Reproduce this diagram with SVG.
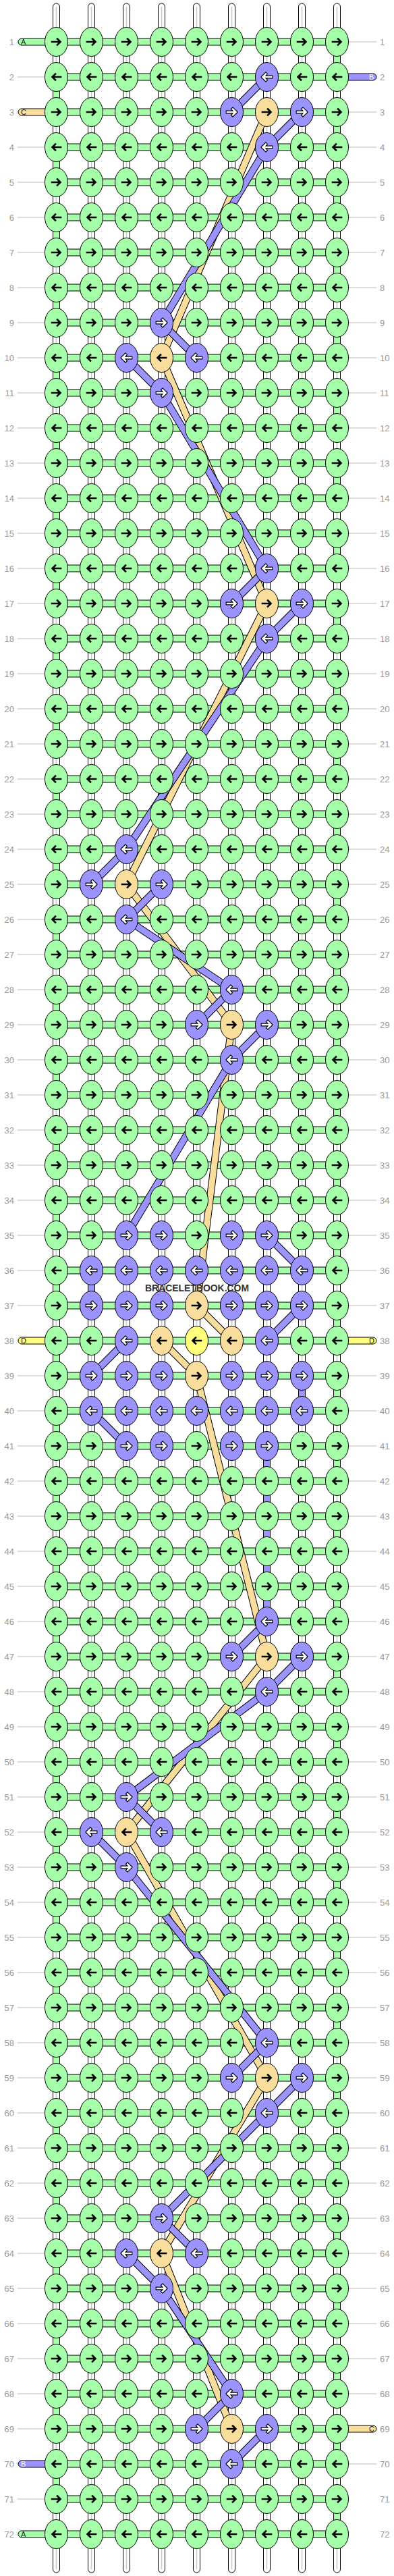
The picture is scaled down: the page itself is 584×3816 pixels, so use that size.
<svg xmlns="http://www.w3.org/2000/svg" xmlns:xlink="http://www.w3.org/1999/xlink" width="584" height="3816" viewBox="0 0 584 3816">
<style>
.g{fill:#a4ffa8;stroke:#000;stroke-width:1}
.p{fill:#9b93ff;stroke:#000;stroke-width:1}
.t{fill:#f8dd9c;stroke:#000;stroke-width:1}
.y{fill:#ffff7c;stroke:#000;stroke-width:1}
.ak{fill:none;stroke:#000;stroke-width:2.6;stroke-linecap:square}
.ao{fill:none;stroke:#000;stroke-width:4.8;stroke-linecap:square}
.aw{fill:none;stroke:#fff;stroke-width:2.6;stroke-linecap:square}
.vs{fill:#fff;stroke:#000;stroke-width:1}
.vc{fill:none;stroke:#c8c8c8;stroke-width:1.5}
.ob{fill:none;stroke:#000;stroke-width:11;stroke-linejoin:round}
.fg{fill:none;stroke:#a4ffa8;stroke-width:9;stroke-linejoin:round}
.fp{fill:none;stroke:#9b93ff;stroke-width:9;stroke-linejoin:round}
.ft{fill:none;stroke:#f8dd9c;stroke-width:9;stroke-linejoin:round}
.gl{fill:none;stroke:#bbb;stroke-width:1}
.num{font-family:"Liberation Sans",Arial,sans-serif;font-size:13px;fill:#999}
.sl{font-family:"Liberation Sans",Arial,sans-serif;font-size:11px;fill:#222}
.wm{font-family:"Liberation Sans",Arial,sans-serif;font-size:15px;font-weight:bold;fill:#333}
</style>
<defs>
<ellipse id="e" rx="17" ry="21.5"/>
<path id="ar" d="M-6.5,0H5.5M1.5,-4.5L6,0L1.5,4.5"/>
<path id="al" d="M6.5,0H-5.5M-1.5,-4.5L-6,0L-1.5,4.5"/>
<g id="GR"><use href="#e" class="g"/><use href="#ar" class="ak"/></g>
<g id="GL"><use href="#e" class="g"/><use href="#al" class="ak"/></g>
<g id="TR"><use href="#e" class="t"/><use href="#ar" class="ak"/></g>
<g id="TL"><use href="#e" class="t"/><use href="#al" class="ak"/></g>
<g id="YL"><use href="#e" class="y"/><use href="#al" class="ak"/></g>
<g id="PR"><use href="#e" class="p"/><use href="#ar" class="ao"/><use href="#ar" class="aw"/></g>
<g id="PL"><use href="#e" class="p"/><use href="#al" class="ao"/><use href="#al" class="aw"/></g>
<path id="hz" d="M83.5,62h416m-416,52h416m-416,52h416m-416,52h416m-416,52h416m-416,52h416m-416,52h416m-416,52h416m-416,52h416m-416,52h416m-416,52h416m-416,52h416m-416,52h416m-416,52h416m-416,52h416m-416,52h416m-416,52h416m-416,52h416m-416,52h416m-416,52h416m-416,52h416m-416,52h416m-416,52h416m-416,52h416m-416,52h416m-416,52h416m-416,52h416m-416,52h416m-416,52h416m-416,52h416m-416,52h416m-416,52h416m-416,52h416m-416,52h416m-416,52h416m-416,52h416m-416,52h416m-416,52h416m-416,52h416m-416,52h416m-416,52h416m-416,52h416m-416,52h416m-416,52h416m-416,52h416m-416,52h416m-416,52h416m-416,52h416m-416,52h416m-416,52h416m-416,52h416m-416,52h416m-416,52h416m-416,52h416m-416,52h416m-416,52h416m-416,52h416m-416,52h416m-416,52h416m-416,52h416m-416,52h416m-416,52h416m-416,52h416m-416,52h416m-416,52h416m-416,52h416m-416,52h416m-416,52h416m-416,52h416m-416,52h416m-416,52h416m-416,52h416"/>
<path id="tanp" d="M395.5,166L239.5,530L395.5,894L187.5,1310L343.5,1518L291.5,1934L343.5,1986M239.5,1986L291.5,2038L395.5,2454L187.5,2714L395.5,3078L239.5,3338L343.5,3598"/>
<path id="purp" d="M395.5,114L343.5,166M447.5,166L395.5,218L239.5,478L291.5,530M187.5,530L239.5,582L395.5,842L343.5,894M447.5,894L395.5,946L187.5,1258L135.5,1310M239.5,1310L187.5,1362L343.5,1466L291.5,1518M395.5,1518L343.5,1570L187.5,1830M395.5,1830L447.5,1882M447.5,1934L395.5,1986M187.5,1986L135.5,2038M135.5,2090L187.5,2142M395.5,2402L343.5,2454M447.5,2454L395.5,2506L187.5,2662L239.5,2714M135.5,2714L187.5,2766L395.5,3026L343.5,3078M447.5,3078L395.5,3130L239.5,3286L291.5,3338M187.5,3338L239.5,3390L343.5,3546L291.5,3598M395.5,3598L343.5,3650"/>
</defs>
<rect width="584" height="3816" fill="#fff"/>
<g id="connectors">
<g id="base-strands">
<rect class="vs" x="78.5" y="5" width="10" height="3806" rx="5"/>
<rect class="vs" x="130.5" y="5" width="10" height="3806" rx="5"/>
<rect class="vs" x="182.5" y="5" width="10" height="3806" rx="5"/>
<rect class="vs" x="234.5" y="5" width="10" height="3806" rx="5"/>
<rect class="vs" x="286.5" y="5" width="10" height="3806" rx="5"/>
<rect class="vs" x="338.5" y="5" width="10" height="3806" rx="5"/>
<rect class="vs" x="390.5" y="5" width="10" height="3806" rx="5"/>
<rect class="vs" x="442.5" y="5" width="10" height="3806" rx="5"/>
<rect class="vs" x="494.5" y="5" width="10" height="3806" rx="5"/>
<path class="vc" d="M83.5,10V3806M135.5,10V3806M187.5,10V3806M239.5,10V3806M291.5,10V3806M343.5,10V3806M395.5,10V3806M447.5,10V3806M499.5,10V3806"/>
</g>
<g id="turns">
<path class="ob" stroke-dasharray="16 88" d="M499.5,80V3736M83.5,132V3684"/>
<path class="fg" stroke-dasharray="16 88" d="M499.5,80V3736M83.5,132V3684"/>
</g>
<g id="purple-verticals">
<rect class="p" x="130.5" y="1900" width="10" height="16"/>
<rect class="p" x="442.5" y="2056" width="10" height="16"/>
<rect class="p" x="390.5" y="2160" width="10" height="224"/>
</g>
<g id="rows-h">
<use href="#hz" class="ob"/>
<use href="#hz" class="fg"/>
</g>
<g id="side-lines">
<path class="gl" d="M26,62h41m-41,52h41m-41,52h41m-41,52h41m-41,52h41m-41,52h41m-41,52h41m-41,52h41m-41,52h41m-41,52h41m-41,52h41m-41,52h41m-41,52h41m-41,52h41m-41,52h41m-41,52h41m-41,52h41m-41,52h41m-41,52h41m-41,52h41m-41,52h41m-41,52h41m-41,52h41m-41,52h41m-41,52h41m-41,52h41m-41,52h41m-41,52h41m-41,52h41m-41,52h41m-41,52h41m-41,52h41m-41,52h41m-41,52h41m-41,52h41m-41,52h41m-41,52h41m-41,52h41m-41,52h41m-41,52h41m-41,52h41m-41,52h41m-41,52h41m-41,52h41m-41,52h41m-41,52h41m-41,52h41m-41,52h41m-41,52h41m-41,52h41m-41,52h41m-41,52h41m-41,52h41m-41,52h41m-41,52h41m-41,52h41m-41,52h41m-41,52h41m-41,52h41m-41,52h41m-41,52h41m-41,52h41m-41,52h41m-41,52h41m-41,52h41m-41,52h41m-41,52h41m-41,52h41m-41,52h41m-41,52h41m-41,52h41"/>
<path class="gl" d="M517,62h41m-41,52h41m-41,52h41m-41,52h41m-41,52h41m-41,52h41m-41,52h41m-41,52h41m-41,52h41m-41,52h41m-41,52h41m-41,52h41m-41,52h41m-41,52h41m-41,52h41m-41,52h41m-41,52h41m-41,52h41m-41,52h41m-41,52h41m-41,52h41m-41,52h41m-41,52h41m-41,52h41m-41,52h41m-41,52h41m-41,52h41m-41,52h41m-41,52h41m-41,52h41m-41,52h41m-41,52h41m-41,52h41m-41,52h41m-41,52h41m-41,52h41m-41,52h41m-41,52h41m-41,52h41m-41,52h41m-41,52h41m-41,52h41m-41,52h41m-41,52h41m-41,52h41m-41,52h41m-41,52h41m-41,52h41m-41,52h41m-41,52h41m-41,52h41m-41,52h41m-41,52h41m-41,52h41m-41,52h41m-41,52h41m-41,52h41m-41,52h41m-41,52h41m-41,52h41m-41,52h41m-41,52h41m-41,52h41m-41,52h41m-41,52h41m-41,52h41m-41,52h41m-41,52h41m-41,52h41m-41,52h41"/>
</g>
<g id="stubs">
<rect class="g" x="27" y="57" width="60" height="10" rx="5"/>
<rect class="t" x="27" y="161" width="60" height="10" rx="5"/>
<rect class="y" x="27" y="1981" width="60" height="10" rx="5"/>
<rect class="p" x="27" y="3645" width="60" height="10" rx="5"/>
<rect class="g" x="27" y="3749" width="60" height="10" rx="5"/>
<rect class="p" x="497" y="109" width="61" height="10" rx="5"/>
<rect class="y" x="497" y="1981" width="61" height="10" rx="5"/>
<rect class="t" x="497" y="3593" width="61" height="10" rx="5"/>
</g>
<g id="diagonals">
<use href="#tanp" class="ob"/>
<use href="#tanp" class="ft"/>
<use href="#purp" class="ob"/>
<use href="#purp" class="fp"/>
</g>
</g>
<g id="knots">
<g id="row1" transform="translate(0,62)"><g id="k1_1"><use href="#GR" x="83.5"/></g><g id="k1_2"><use href="#GR" x="135.5"/></g><g id="k1_3"><use href="#GR" x="187.5"/></g><g id="k1_4"><use href="#GR" x="239.5"/></g><g id="k1_5"><use href="#GR" x="291.5"/></g><g id="k1_6"><use href="#GR" x="343.5"/></g><g id="k1_7"><use href="#GR" x="395.5"/></g><g id="k1_8"><use href="#GR" x="447.5"/></g><g id="k1_9"><use href="#GR" x="499.5"/></g></g>
<g id="row2" transform="translate(0,114)"><g id="k2_1"><use href="#GL" x="83.5"/></g><g id="k2_2"><use href="#GL" x="135.5"/></g><g id="k2_3"><use href="#GL" x="187.5"/></g><g id="k2_4"><use href="#GL" x="239.5"/></g><g id="k2_5"><use href="#GL" x="291.5"/></g><g id="k2_6"><use href="#GL" x="343.5"/></g><g id="k2_7"><use href="#PL" x="395.5"/></g><g id="k2_8"><use href="#GL" x="447.5"/></g><g id="k2_9"><use href="#GL" x="499.5"/></g></g>
<g id="row3" transform="translate(0,166)"><g id="k3_1"><use href="#GR" x="83.5"/></g><g id="k3_2"><use href="#GR" x="135.5"/></g><g id="k3_3"><use href="#GR" x="187.5"/></g><g id="k3_4"><use href="#GR" x="239.5"/></g><g id="k3_5"><use href="#GR" x="291.5"/></g><g id="k3_6"><use href="#PR" x="343.5"/></g><g id="k3_7"><use href="#TR" x="395.5"/></g><g id="k3_8"><use href="#PR" x="447.5"/></g><g id="k3_9"><use href="#GR" x="499.5"/></g></g>
<g id="row4" transform="translate(0,218)"><g id="k4_1"><use href="#GL" x="83.5"/></g><g id="k4_2"><use href="#GL" x="135.5"/></g><g id="k4_3"><use href="#GL" x="187.5"/></g><g id="k4_4"><use href="#GL" x="239.5"/></g><g id="k4_5"><use href="#GL" x="291.5"/></g><g id="k4_6"><use href="#GL" x="343.5"/></g><g id="k4_7"><use href="#PL" x="395.5"/></g><g id="k4_8"><use href="#GL" x="447.5"/></g><g id="k4_9"><use href="#GL" x="499.5"/></g></g>
<g id="row5" transform="translate(0,270)"><g id="k5_1"><use href="#GR" x="83.5"/></g><g id="k5_2"><use href="#GR" x="135.5"/></g><g id="k5_3"><use href="#GR" x="187.5"/></g><g id="k5_4"><use href="#GR" x="239.5"/></g><g id="k5_5"><use href="#GR" x="291.5"/></g><g id="k5_6"><use href="#GR" x="343.5"/></g><g id="k5_7"><use href="#GR" x="395.5"/></g><g id="k5_8"><use href="#GR" x="447.5"/></g><g id="k5_9"><use href="#GR" x="499.5"/></g></g>
<g id="row6" transform="translate(0,322)"><g id="k6_1"><use href="#GL" x="83.5"/></g><g id="k6_2"><use href="#GL" x="135.5"/></g><g id="k6_3"><use href="#GL" x="187.5"/></g><g id="k6_4"><use href="#GL" x="239.5"/></g><g id="k6_5"><use href="#GL" x="291.5"/></g><g id="k6_6"><use href="#GL" x="343.5"/></g><g id="k6_7"><use href="#GL" x="395.5"/></g><g id="k6_8"><use href="#GL" x="447.5"/></g><g id="k6_9"><use href="#GL" x="499.5"/></g></g>
<g id="row7" transform="translate(0,374)"><g id="k7_1"><use href="#GR" x="83.5"/></g><g id="k7_2"><use href="#GR" x="135.5"/></g><g id="k7_3"><use href="#GR" x="187.5"/></g><g id="k7_4"><use href="#GR" x="239.5"/></g><g id="k7_5"><use href="#GR" x="291.5"/></g><g id="k7_6"><use href="#GR" x="343.5"/></g><g id="k7_7"><use href="#GR" x="395.5"/></g><g id="k7_8"><use href="#GR" x="447.5"/></g><g id="k7_9"><use href="#GR" x="499.5"/></g></g>
<g id="row8" transform="translate(0,426)"><g id="k8_1"><use href="#GL" x="83.5"/></g><g id="k8_2"><use href="#GL" x="135.5"/></g><g id="k8_3"><use href="#GL" x="187.5"/></g><g id="k8_4"><use href="#GL" x="239.5"/></g><g id="k8_5"><use href="#GL" x="291.5"/></g><g id="k8_6"><use href="#GL" x="343.5"/></g><g id="k8_7"><use href="#GL" x="395.5"/></g><g id="k8_8"><use href="#GL" x="447.5"/></g><g id="k8_9"><use href="#GL" x="499.5"/></g></g>
<g id="row9" transform="translate(0,478)"><g id="k9_1"><use href="#GR" x="83.5"/></g><g id="k9_2"><use href="#GR" x="135.5"/></g><g id="k9_3"><use href="#GR" x="187.5"/></g><g id="k9_4"><use href="#PR" x="239.5"/></g><g id="k9_5"><use href="#GR" x="291.5"/></g><g id="k9_6"><use href="#GR" x="343.5"/></g><g id="k9_7"><use href="#GR" x="395.5"/></g><g id="k9_8"><use href="#GR" x="447.5"/></g><g id="k9_9"><use href="#GR" x="499.5"/></g></g>
<g id="row10" transform="translate(0,530)"><g id="k10_1"><use href="#GL" x="83.5"/></g><g id="k10_2"><use href="#GL" x="135.5"/></g><g id="k10_3"><use href="#PL" x="187.5"/></g><g id="k10_4"><use href="#TL" x="239.5"/></g><g id="k10_5"><use href="#PL" x="291.5"/></g><g id="k10_6"><use href="#GL" x="343.5"/></g><g id="k10_7"><use href="#GL" x="395.5"/></g><g id="k10_8"><use href="#GL" x="447.5"/></g><g id="k10_9"><use href="#GL" x="499.5"/></g></g>
<g id="row11" transform="translate(0,582)"><g id="k11_1"><use href="#GR" x="83.5"/></g><g id="k11_2"><use href="#GR" x="135.5"/></g><g id="k11_3"><use href="#GR" x="187.5"/></g><g id="k11_4"><use href="#PR" x="239.5"/></g><g id="k11_5"><use href="#GR" x="291.5"/></g><g id="k11_6"><use href="#GR" x="343.5"/></g><g id="k11_7"><use href="#GR" x="395.5"/></g><g id="k11_8"><use href="#GR" x="447.5"/></g><g id="k11_9"><use href="#GR" x="499.5"/></g></g>
<g id="row12" transform="translate(0,634)"><g id="k12_1"><use href="#GL" x="83.5"/></g><g id="k12_2"><use href="#GL" x="135.5"/></g><g id="k12_3"><use href="#GL" x="187.5"/></g><g id="k12_4"><use href="#GL" x="239.5"/></g><g id="k12_5"><use href="#GL" x="291.5"/></g><g id="k12_6"><use href="#GL" x="343.5"/></g><g id="k12_7"><use href="#GL" x="395.5"/></g><g id="k12_8"><use href="#GL" x="447.5"/></g><g id="k12_9"><use href="#GL" x="499.5"/></g></g>
<g id="row13" transform="translate(0,686)"><g id="k13_1"><use href="#GR" x="83.5"/></g><g id="k13_2"><use href="#GR" x="135.5"/></g><g id="k13_3"><use href="#GR" x="187.5"/></g><g id="k13_4"><use href="#GR" x="239.5"/></g><g id="k13_5"><use href="#GR" x="291.5"/></g><g id="k13_6"><use href="#GR" x="343.5"/></g><g id="k13_7"><use href="#GR" x="395.5"/></g><g id="k13_8"><use href="#GR" x="447.5"/></g><g id="k13_9"><use href="#GR" x="499.5"/></g></g>
<g id="row14" transform="translate(0,738)"><g id="k14_1"><use href="#GL" x="83.5"/></g><g id="k14_2"><use href="#GL" x="135.5"/></g><g id="k14_3"><use href="#GL" x="187.5"/></g><g id="k14_4"><use href="#GL" x="239.5"/></g><g id="k14_5"><use href="#GL" x="291.5"/></g><g id="k14_6"><use href="#GL" x="343.5"/></g><g id="k14_7"><use href="#GL" x="395.5"/></g><g id="k14_8"><use href="#GL" x="447.5"/></g><g id="k14_9"><use href="#GL" x="499.5"/></g></g>
<g id="row15" transform="translate(0,790)"><g id="k15_1"><use href="#GR" x="83.5"/></g><g id="k15_2"><use href="#GR" x="135.5"/></g><g id="k15_3"><use href="#GR" x="187.5"/></g><g id="k15_4"><use href="#GR" x="239.5"/></g><g id="k15_5"><use href="#GR" x="291.5"/></g><g id="k15_6"><use href="#GR" x="343.5"/></g><g id="k15_7"><use href="#GR" x="395.5"/></g><g id="k15_8"><use href="#GR" x="447.5"/></g><g id="k15_9"><use href="#GR" x="499.5"/></g></g>
<g id="row16" transform="translate(0,842)"><g id="k16_1"><use href="#GL" x="83.5"/></g><g id="k16_2"><use href="#GL" x="135.5"/></g><g id="k16_3"><use href="#GL" x="187.5"/></g><g id="k16_4"><use href="#GL" x="239.5"/></g><g id="k16_5"><use href="#GL" x="291.5"/></g><g id="k16_6"><use href="#GL" x="343.5"/></g><g id="k16_7"><use href="#PL" x="395.5"/></g><g id="k16_8"><use href="#GL" x="447.5"/></g><g id="k16_9"><use href="#GL" x="499.5"/></g></g>
<g id="row17" transform="translate(0,894)"><g id="k17_1"><use href="#GR" x="83.5"/></g><g id="k17_2"><use href="#GR" x="135.5"/></g><g id="k17_3"><use href="#GR" x="187.5"/></g><g id="k17_4"><use href="#GR" x="239.5"/></g><g id="k17_5"><use href="#GR" x="291.5"/></g><g id="k17_6"><use href="#PR" x="343.5"/></g><g id="k17_7"><use href="#TR" x="395.5"/></g><g id="k17_8"><use href="#PR" x="447.5"/></g><g id="k17_9"><use href="#GR" x="499.5"/></g></g>
<g id="row18" transform="translate(0,946)"><g id="k18_1"><use href="#GL" x="83.5"/></g><g id="k18_2"><use href="#GL" x="135.5"/></g><g id="k18_3"><use href="#GL" x="187.5"/></g><g id="k18_4"><use href="#GL" x="239.5"/></g><g id="k18_5"><use href="#GL" x="291.5"/></g><g id="k18_6"><use href="#GL" x="343.5"/></g><g id="k18_7"><use href="#PL" x="395.5"/></g><g id="k18_8"><use href="#GL" x="447.5"/></g><g id="k18_9"><use href="#GL" x="499.5"/></g></g>
<g id="row19" transform="translate(0,998)"><g id="k19_1"><use href="#GR" x="83.5"/></g><g id="k19_2"><use href="#GR" x="135.5"/></g><g id="k19_3"><use href="#GR" x="187.5"/></g><g id="k19_4"><use href="#GR" x="239.5"/></g><g id="k19_5"><use href="#GR" x="291.5"/></g><g id="k19_6"><use href="#GR" x="343.5"/></g><g id="k19_7"><use href="#GR" x="395.5"/></g><g id="k19_8"><use href="#GR" x="447.5"/></g><g id="k19_9"><use href="#GR" x="499.5"/></g></g>
<g id="row20" transform="translate(0,1050)"><g id="k20_1"><use href="#GL" x="83.5"/></g><g id="k20_2"><use href="#GL" x="135.5"/></g><g id="k20_3"><use href="#GL" x="187.5"/></g><g id="k20_4"><use href="#GL" x="239.5"/></g><g id="k20_5"><use href="#GL" x="291.5"/></g><g id="k20_6"><use href="#GL" x="343.5"/></g><g id="k20_7"><use href="#GL" x="395.5"/></g><g id="k20_8"><use href="#GL" x="447.5"/></g><g id="k20_9"><use href="#GL" x="499.5"/></g></g>
<g id="row21" transform="translate(0,1102)"><g id="k21_1"><use href="#GR" x="83.5"/></g><g id="k21_2"><use href="#GR" x="135.5"/></g><g id="k21_3"><use href="#GR" x="187.5"/></g><g id="k21_4"><use href="#GR" x="239.5"/></g><g id="k21_5"><use href="#GR" x="291.5"/></g><g id="k21_6"><use href="#GR" x="343.5"/></g><g id="k21_7"><use href="#GR" x="395.5"/></g><g id="k21_8"><use href="#GR" x="447.5"/></g><g id="k21_9"><use href="#GR" x="499.5"/></g></g>
<g id="row22" transform="translate(0,1154)"><g id="k22_1"><use href="#GL" x="83.5"/></g><g id="k22_2"><use href="#GL" x="135.5"/></g><g id="k22_3"><use href="#GL" x="187.5"/></g><g id="k22_4"><use href="#GL" x="239.5"/></g><g id="k22_5"><use href="#GL" x="291.5"/></g><g id="k22_6"><use href="#GL" x="343.5"/></g><g id="k22_7"><use href="#GL" x="395.5"/></g><g id="k22_8"><use href="#GL" x="447.5"/></g><g id="k22_9"><use href="#GL" x="499.5"/></g></g>
<g id="row23" transform="translate(0,1206)"><g id="k23_1"><use href="#GR" x="83.5"/></g><g id="k23_2"><use href="#GR" x="135.5"/></g><g id="k23_3"><use href="#GR" x="187.5"/></g><g id="k23_4"><use href="#GR" x="239.5"/></g><g id="k23_5"><use href="#GR" x="291.5"/></g><g id="k23_6"><use href="#GR" x="343.5"/></g><g id="k23_7"><use href="#GR" x="395.5"/></g><g id="k23_8"><use href="#GR" x="447.5"/></g><g id="k23_9"><use href="#GR" x="499.5"/></g></g>
<g id="row24" transform="translate(0,1258)"><g id="k24_1"><use href="#GL" x="83.5"/></g><g id="k24_2"><use href="#GL" x="135.5"/></g><g id="k24_3"><use href="#PL" x="187.5"/></g><g id="k24_4"><use href="#GL" x="239.5"/></g><g id="k24_5"><use href="#GL" x="291.5"/></g><g id="k24_6"><use href="#GL" x="343.5"/></g><g id="k24_7"><use href="#GL" x="395.5"/></g><g id="k24_8"><use href="#GL" x="447.5"/></g><g id="k24_9"><use href="#GL" x="499.5"/></g></g>
<g id="row25" transform="translate(0,1310)"><g id="k25_1"><use href="#GR" x="83.5"/></g><g id="k25_2"><use href="#PR" x="135.5"/></g><g id="k25_3"><use href="#TR" x="187.5"/></g><g id="k25_4"><use href="#PR" x="239.5"/></g><g id="k25_5"><use href="#GR" x="291.5"/></g><g id="k25_6"><use href="#GR" x="343.5"/></g><g id="k25_7"><use href="#GR" x="395.5"/></g><g id="k25_8"><use href="#GR" x="447.5"/></g><g id="k25_9"><use href="#GR" x="499.5"/></g></g>
<g id="row26" transform="translate(0,1362)"><g id="k26_1"><use href="#GL" x="83.5"/></g><g id="k26_2"><use href="#GL" x="135.5"/></g><g id="k26_3"><use href="#PL" x="187.5"/></g><g id="k26_4"><use href="#GL" x="239.5"/></g><g id="k26_5"><use href="#GL" x="291.5"/></g><g id="k26_6"><use href="#GL" x="343.5"/></g><g id="k26_7"><use href="#GL" x="395.5"/></g><g id="k26_8"><use href="#GL" x="447.5"/></g><g id="k26_9"><use href="#GL" x="499.5"/></g></g>
<g id="row27" transform="translate(0,1414)"><g id="k27_1"><use href="#GR" x="83.5"/></g><g id="k27_2"><use href="#GR" x="135.5"/></g><g id="k27_3"><use href="#GR" x="187.5"/></g><g id="k27_4"><use href="#GR" x="239.5"/></g><g id="k27_5"><use href="#GR" x="291.5"/></g><g id="k27_6"><use href="#GR" x="343.5"/></g><g id="k27_7"><use href="#GR" x="395.5"/></g><g id="k27_8"><use href="#GR" x="447.5"/></g><g id="k27_9"><use href="#GR" x="499.5"/></g></g>
<g id="row28" transform="translate(0,1466)"><g id="k28_1"><use href="#GL" x="83.5"/></g><g id="k28_2"><use href="#GL" x="135.5"/></g><g id="k28_3"><use href="#GL" x="187.5"/></g><g id="k28_4"><use href="#GL" x="239.5"/></g><g id="k28_5"><use href="#GL" x="291.5"/></g><g id="k28_6"><use href="#PL" x="343.5"/></g><g id="k28_7"><use href="#GL" x="395.5"/></g><g id="k28_8"><use href="#GL" x="447.5"/></g><g id="k28_9"><use href="#GL" x="499.5"/></g></g>
<g id="row29" transform="translate(0,1518)"><g id="k29_1"><use href="#GR" x="83.5"/></g><g id="k29_2"><use href="#GR" x="135.5"/></g><g id="k29_3"><use href="#GR" x="187.5"/></g><g id="k29_4"><use href="#GR" x="239.5"/></g><g id="k29_5"><use href="#PR" x="291.5"/></g><g id="k29_6"><use href="#TR" x="343.5"/></g><g id="k29_7"><use href="#PR" x="395.5"/></g><g id="k29_8"><use href="#GR" x="447.5"/></g><g id="k29_9"><use href="#GR" x="499.5"/></g></g>
<g id="row30" transform="translate(0,1570)"><g id="k30_1"><use href="#GL" x="83.5"/></g><g id="k30_2"><use href="#GL" x="135.5"/></g><g id="k30_3"><use href="#GL" x="187.5"/></g><g id="k30_4"><use href="#GL" x="239.5"/></g><g id="k30_5"><use href="#GL" x="291.5"/></g><g id="k30_6"><use href="#PL" x="343.5"/></g><g id="k30_7"><use href="#GL" x="395.5"/></g><g id="k30_8"><use href="#GL" x="447.5"/></g><g id="k30_9"><use href="#GL" x="499.5"/></g></g>
<g id="row31" transform="translate(0,1622)"><g id="k31_1"><use href="#GR" x="83.5"/></g><g id="k31_2"><use href="#GR" x="135.5"/></g><g id="k31_3"><use href="#GR" x="187.5"/></g><g id="k31_4"><use href="#GR" x="239.5"/></g><g id="k31_5"><use href="#GR" x="291.5"/></g><g id="k31_6"><use href="#GR" x="343.5"/></g><g id="k31_7"><use href="#GR" x="395.5"/></g><g id="k31_8"><use href="#GR" x="447.5"/></g><g id="k31_9"><use href="#GR" x="499.5"/></g></g>
<g id="row32" transform="translate(0,1674)"><g id="k32_1"><use href="#GL" x="83.5"/></g><g id="k32_2"><use href="#GL" x="135.5"/></g><g id="k32_3"><use href="#GL" x="187.5"/></g><g id="k32_4"><use href="#GL" x="239.5"/></g><g id="k32_5"><use href="#GL" x="291.5"/></g><g id="k32_6"><use href="#GL" x="343.5"/></g><g id="k32_7"><use href="#GL" x="395.5"/></g><g id="k32_8"><use href="#GL" x="447.5"/></g><g id="k32_9"><use href="#GL" x="499.5"/></g></g>
<g id="row33" transform="translate(0,1726)"><g id="k33_1"><use href="#GR" x="83.5"/></g><g id="k33_2"><use href="#GR" x="135.5"/></g><g id="k33_3"><use href="#GR" x="187.5"/></g><g id="k33_4"><use href="#GR" x="239.5"/></g><g id="k33_5"><use href="#GR" x="291.5"/></g><g id="k33_6"><use href="#GR" x="343.5"/></g><g id="k33_7"><use href="#GR" x="395.5"/></g><g id="k33_8"><use href="#GR" x="447.5"/></g><g id="k33_9"><use href="#GR" x="499.5"/></g></g>
<g id="row34" transform="translate(0,1778)"><g id="k34_1"><use href="#GL" x="83.5"/></g><g id="k34_2"><use href="#GL" x="135.5"/></g><g id="k34_3"><use href="#GL" x="187.5"/></g><g id="k34_4"><use href="#GL" x="239.5"/></g><g id="k34_5"><use href="#GL" x="291.5"/></g><g id="k34_6"><use href="#GL" x="343.5"/></g><g id="k34_7"><use href="#GL" x="395.5"/></g><g id="k34_8"><use href="#GL" x="447.5"/></g><g id="k34_9"><use href="#GL" x="499.5"/></g></g>
<g id="row35" transform="translate(0,1830)"><g id="k35_1"><use href="#GR" x="83.5"/></g><g id="k35_2"><use href="#GR" x="135.5"/></g><g id="k35_3"><use href="#PR" x="187.5"/></g><g id="k35_4"><use href="#PR" x="239.5"/></g><g id="k35_5"><use href="#GR" x="291.5"/></g><g id="k35_6"><use href="#PR" x="343.5"/></g><g id="k35_7"><use href="#PR" x="395.5"/></g><g id="k35_8"><use href="#GR" x="447.5"/></g><g id="k35_9"><use href="#GR" x="499.5"/></g></g>
<g id="row36" transform="translate(0,1882)"><g id="k36_1"><use href="#GL" x="83.5"/></g><g id="k36_2"><use href="#PL" x="135.5"/></g><g id="k36_3"><use href="#PL" x="187.5"/></g><g id="k36_4"><use href="#PL" x="239.5"/></g><g id="k36_5"><use href="#PL" x="291.5"/></g><g id="k36_6"><use href="#PL" x="343.5"/></g><g id="k36_7"><use href="#PL" x="395.5"/></g><g id="k36_8"><use href="#PL" x="447.5"/></g><g id="k36_9"><use href="#GL" x="499.5"/></g></g>
<g id="row37" transform="translate(0,1934)"><g id="k37_1"><use href="#GR" x="83.5"/></g><g id="k37_2"><use href="#PR" x="135.5"/></g><g id="k37_3"><use href="#PR" x="187.5"/></g><g id="k37_4"><use href="#PR" x="239.5"/></g><g id="k37_5"><use href="#TR" x="291.5"/></g><g id="k37_6"><use href="#PR" x="343.5"/></g><g id="k37_7"><use href="#PR" x="395.5"/></g><g id="k37_8"><use href="#PR" x="447.5"/></g><g id="k37_9"><use href="#GR" x="499.5"/></g></g>
<g id="row38" transform="translate(0,1986)"><g id="k38_1"><use href="#GL" x="83.5"/></g><g id="k38_2"><use href="#GL" x="135.5"/></g><g id="k38_3"><use href="#PL" x="187.5"/></g><g id="k38_4"><use href="#TL" x="239.5"/></g><g id="k38_5"><use href="#YL" x="291.5"/></g><g id="k38_6"><use href="#TL" x="343.5"/></g><g id="k38_7"><use href="#PL" x="395.5"/></g><g id="k38_8"><use href="#GL" x="447.5"/></g><g id="k38_9"><use href="#GL" x="499.5"/></g></g>
<g id="row39" transform="translate(0,2038)"><g id="k39_1"><use href="#GR" x="83.5"/></g><g id="k39_2"><use href="#PR" x="135.5"/></g><g id="k39_3"><use href="#PR" x="187.5"/></g><g id="k39_4"><use href="#PR" x="239.5"/></g><g id="k39_5"><use href="#TR" x="291.5"/></g><g id="k39_6"><use href="#PR" x="343.5"/></g><g id="k39_7"><use href="#PR" x="395.5"/></g><g id="k39_8"><use href="#PR" x="447.5"/></g><g id="k39_9"><use href="#GR" x="499.5"/></g></g>
<g id="row40" transform="translate(0,2090)"><g id="k40_1"><use href="#GL" x="83.5"/></g><g id="k40_2"><use href="#PL" x="135.5"/></g><g id="k40_3"><use href="#PL" x="187.5"/></g><g id="k40_4"><use href="#PL" x="239.5"/></g><g id="k40_5"><use href="#PL" x="291.5"/></g><g id="k40_6"><use href="#PL" x="343.5"/></g><g id="k40_7"><use href="#PL" x="395.5"/></g><g id="k40_8"><use href="#PL" x="447.5"/></g><g id="k40_9"><use href="#GL" x="499.5"/></g></g>
<g id="row41" transform="translate(0,2142)"><g id="k41_1"><use href="#GR" x="83.5"/></g><g id="k41_2"><use href="#GR" x="135.5"/></g><g id="k41_3"><use href="#PR" x="187.5"/></g><g id="k41_4"><use href="#PR" x="239.5"/></g><g id="k41_5"><use href="#GR" x="291.5"/></g><g id="k41_6"><use href="#PR" x="343.5"/></g><g id="k41_7"><use href="#PR" x="395.5"/></g><g id="k41_8"><use href="#GR" x="447.5"/></g><g id="k41_9"><use href="#GR" x="499.5"/></g></g>
<g id="row42" transform="translate(0,2194)"><g id="k42_1"><use href="#GL" x="83.5"/></g><g id="k42_2"><use href="#GL" x="135.5"/></g><g id="k42_3"><use href="#GL" x="187.5"/></g><g id="k42_4"><use href="#GL" x="239.5"/></g><g id="k42_5"><use href="#GL" x="291.5"/></g><g id="k42_6"><use href="#GL" x="343.5"/></g><g id="k42_7"><use href="#GL" x="395.5"/></g><g id="k42_8"><use href="#GL" x="447.5"/></g><g id="k42_9"><use href="#GL" x="499.5"/></g></g>
<g id="row43" transform="translate(0,2246)"><g id="k43_1"><use href="#GR" x="83.5"/></g><g id="k43_2"><use href="#GR" x="135.5"/></g><g id="k43_3"><use href="#GR" x="187.5"/></g><g id="k43_4"><use href="#GR" x="239.5"/></g><g id="k43_5"><use href="#GR" x="291.5"/></g><g id="k43_6"><use href="#GR" x="343.5"/></g><g id="k43_7"><use href="#GR" x="395.5"/></g><g id="k43_8"><use href="#GR" x="447.5"/></g><g id="k43_9"><use href="#GR" x="499.5"/></g></g>
<g id="row44" transform="translate(0,2298)"><g id="k44_1"><use href="#GL" x="83.5"/></g><g id="k44_2"><use href="#GL" x="135.5"/></g><g id="k44_3"><use href="#GL" x="187.5"/></g><g id="k44_4"><use href="#GL" x="239.5"/></g><g id="k44_5"><use href="#GL" x="291.5"/></g><g id="k44_6"><use href="#GL" x="343.5"/></g><g id="k44_7"><use href="#GL" x="395.5"/></g><g id="k44_8"><use href="#GL" x="447.5"/></g><g id="k44_9"><use href="#GL" x="499.5"/></g></g>
<g id="row45" transform="translate(0,2350)"><g id="k45_1"><use href="#GR" x="83.5"/></g><g id="k45_2"><use href="#GR" x="135.5"/></g><g id="k45_3"><use href="#GR" x="187.5"/></g><g id="k45_4"><use href="#GR" x="239.5"/></g><g id="k45_5"><use href="#GR" x="291.5"/></g><g id="k45_6"><use href="#GR" x="343.5"/></g><g id="k45_7"><use href="#GR" x="395.5"/></g><g id="k45_8"><use href="#GR" x="447.5"/></g><g id="k45_9"><use href="#GR" x="499.5"/></g></g>
<g id="row46" transform="translate(0,2402)"><g id="k46_1"><use href="#GL" x="83.5"/></g><g id="k46_2"><use href="#GL" x="135.5"/></g><g id="k46_3"><use href="#GL" x="187.5"/></g><g id="k46_4"><use href="#GL" x="239.5"/></g><g id="k46_5"><use href="#GL" x="291.5"/></g><g id="k46_6"><use href="#GL" x="343.5"/></g><g id="k46_7"><use href="#PL" x="395.5"/></g><g id="k46_8"><use href="#GL" x="447.5"/></g><g id="k46_9"><use href="#GL" x="499.5"/></g></g>
<g id="row47" transform="translate(0,2454)"><g id="k47_1"><use href="#GR" x="83.5"/></g><g id="k47_2"><use href="#GR" x="135.5"/></g><g id="k47_3"><use href="#GR" x="187.5"/></g><g id="k47_4"><use href="#GR" x="239.5"/></g><g id="k47_5"><use href="#GR" x="291.5"/></g><g id="k47_6"><use href="#PR" x="343.5"/></g><g id="k47_7"><use href="#TR" x="395.5"/></g><g id="k47_8"><use href="#PR" x="447.5"/></g><g id="k47_9"><use href="#GR" x="499.5"/></g></g>
<g id="row48" transform="translate(0,2506)"><g id="k48_1"><use href="#GL" x="83.5"/></g><g id="k48_2"><use href="#GL" x="135.5"/></g><g id="k48_3"><use href="#GL" x="187.5"/></g><g id="k48_4"><use href="#GL" x="239.5"/></g><g id="k48_5"><use href="#GL" x="291.5"/></g><g id="k48_6"><use href="#GL" x="343.5"/></g><g id="k48_7"><use href="#PL" x="395.5"/></g><g id="k48_8"><use href="#GL" x="447.5"/></g><g id="k48_9"><use href="#GL" x="499.5"/></g></g>
<g id="row49" transform="translate(0,2558)"><g id="k49_1"><use href="#GR" x="83.5"/></g><g id="k49_2"><use href="#GR" x="135.5"/></g><g id="k49_3"><use href="#GR" x="187.5"/></g><g id="k49_4"><use href="#GR" x="239.5"/></g><g id="k49_5"><use href="#GR" x="291.5"/></g><g id="k49_6"><use href="#GR" x="343.5"/></g><g id="k49_7"><use href="#GR" x="395.5"/></g><g id="k49_8"><use href="#GR" x="447.5"/></g><g id="k49_9"><use href="#GR" x="499.5"/></g></g>
<g id="row50" transform="translate(0,2610)"><g id="k50_1"><use href="#GL" x="83.5"/></g><g id="k50_2"><use href="#GL" x="135.5"/></g><g id="k50_3"><use href="#GL" x="187.5"/></g><g id="k50_4"><use href="#GL" x="239.5"/></g><g id="k50_5"><use href="#GL" x="291.5"/></g><g id="k50_6"><use href="#GL" x="343.5"/></g><g id="k50_7"><use href="#GL" x="395.5"/></g><g id="k50_8"><use href="#GL" x="447.5"/></g><g id="k50_9"><use href="#GL" x="499.5"/></g></g>
<g id="row51" transform="translate(0,2662)"><g id="k51_1"><use href="#GR" x="83.5"/></g><g id="k51_2"><use href="#GR" x="135.5"/></g><g id="k51_3"><use href="#PR" x="187.5"/></g><g id="k51_4"><use href="#GR" x="239.5"/></g><g id="k51_5"><use href="#GR" x="291.5"/></g><g id="k51_6"><use href="#GR" x="343.5"/></g><g id="k51_7"><use href="#GR" x="395.5"/></g><g id="k51_8"><use href="#GR" x="447.5"/></g><g id="k51_9"><use href="#GR" x="499.5"/></g></g>
<g id="row52" transform="translate(0,2714)"><g id="k52_1"><use href="#GL" x="83.5"/></g><g id="k52_2"><use href="#PL" x="135.5"/></g><g id="k52_3"><use href="#TL" x="187.5"/></g><g id="k52_4"><use href="#PL" x="239.5"/></g><g id="k52_5"><use href="#GL" x="291.5"/></g><g id="k52_6"><use href="#GL" x="343.5"/></g><g id="k52_7"><use href="#GL" x="395.5"/></g><g id="k52_8"><use href="#GL" x="447.5"/></g><g id="k52_9"><use href="#GL" x="499.5"/></g></g>
<g id="row53" transform="translate(0,2766)"><g id="k53_1"><use href="#GR" x="83.5"/></g><g id="k53_2"><use href="#GR" x="135.5"/></g><g id="k53_3"><use href="#PR" x="187.5"/></g><g id="k53_4"><use href="#GR" x="239.5"/></g><g id="k53_5"><use href="#GR" x="291.5"/></g><g id="k53_6"><use href="#GR" x="343.5"/></g><g id="k53_7"><use href="#GR" x="395.5"/></g><g id="k53_8"><use href="#GR" x="447.5"/></g><g id="k53_9"><use href="#GR" x="499.5"/></g></g>
<g id="row54" transform="translate(0,2818)"><g id="k54_1"><use href="#GL" x="83.5"/></g><g id="k54_2"><use href="#GL" x="135.5"/></g><g id="k54_3"><use href="#GL" x="187.5"/></g><g id="k54_4"><use href="#GL" x="239.5"/></g><g id="k54_5"><use href="#GL" x="291.5"/></g><g id="k54_6"><use href="#GL" x="343.5"/></g><g id="k54_7"><use href="#GL" x="395.5"/></g><g id="k54_8"><use href="#GL" x="447.5"/></g><g id="k54_9"><use href="#GL" x="499.5"/></g></g>
<g id="row55" transform="translate(0,2870)"><g id="k55_1"><use href="#GR" x="83.5"/></g><g id="k55_2"><use href="#GR" x="135.5"/></g><g id="k55_3"><use href="#GR" x="187.5"/></g><g id="k55_4"><use href="#GR" x="239.5"/></g><g id="k55_5"><use href="#GR" x="291.5"/></g><g id="k55_6"><use href="#GR" x="343.5"/></g><g id="k55_7"><use href="#GR" x="395.5"/></g><g id="k55_8"><use href="#GR" x="447.5"/></g><g id="k55_9"><use href="#GR" x="499.5"/></g></g>
<g id="row56" transform="translate(0,2922)"><g id="k56_1"><use href="#GL" x="83.5"/></g><g id="k56_2"><use href="#GL" x="135.5"/></g><g id="k56_3"><use href="#GL" x="187.5"/></g><g id="k56_4"><use href="#GL" x="239.5"/></g><g id="k56_5"><use href="#GL" x="291.5"/></g><g id="k56_6"><use href="#GL" x="343.5"/></g><g id="k56_7"><use href="#GL" x="395.5"/></g><g id="k56_8"><use href="#GL" x="447.5"/></g><g id="k56_9"><use href="#GL" x="499.5"/></g></g>
<g id="row57" transform="translate(0,2974)"><g id="k57_1"><use href="#GR" x="83.5"/></g><g id="k57_2"><use href="#GR" x="135.5"/></g><g id="k57_3"><use href="#GR" x="187.5"/></g><g id="k57_4"><use href="#GR" x="239.5"/></g><g id="k57_5"><use href="#GR" x="291.5"/></g><g id="k57_6"><use href="#GR" x="343.5"/></g><g id="k57_7"><use href="#GR" x="395.5"/></g><g id="k57_8"><use href="#GR" x="447.5"/></g><g id="k57_9"><use href="#GR" x="499.5"/></g></g>
<g id="row58" transform="translate(0,3026)"><g id="k58_1"><use href="#GL" x="83.5"/></g><g id="k58_2"><use href="#GL" x="135.5"/></g><g id="k58_3"><use href="#GL" x="187.5"/></g><g id="k58_4"><use href="#GL" x="239.5"/></g><g id="k58_5"><use href="#GL" x="291.5"/></g><g id="k58_6"><use href="#GL" x="343.5"/></g><g id="k58_7"><use href="#PL" x="395.5"/></g><g id="k58_8"><use href="#GL" x="447.5"/></g><g id="k58_9"><use href="#GL" x="499.5"/></g></g>
<g id="row59" transform="translate(0,3078)"><g id="k59_1"><use href="#GR" x="83.5"/></g><g id="k59_2"><use href="#GR" x="135.5"/></g><g id="k59_3"><use href="#GR" x="187.5"/></g><g id="k59_4"><use href="#GR" x="239.5"/></g><g id="k59_5"><use href="#GR" x="291.5"/></g><g id="k59_6"><use href="#PR" x="343.5"/></g><g id="k59_7"><use href="#TR" x="395.5"/></g><g id="k59_8"><use href="#PR" x="447.5"/></g><g id="k59_9"><use href="#GR" x="499.5"/></g></g>
<g id="row60" transform="translate(0,3130)"><g id="k60_1"><use href="#GL" x="83.5"/></g><g id="k60_2"><use href="#GL" x="135.5"/></g><g id="k60_3"><use href="#GL" x="187.5"/></g><g id="k60_4"><use href="#GL" x="239.5"/></g><g id="k60_5"><use href="#GL" x="291.5"/></g><g id="k60_6"><use href="#GL" x="343.5"/></g><g id="k60_7"><use href="#PL" x="395.5"/></g><g id="k60_8"><use href="#GL" x="447.5"/></g><g id="k60_9"><use href="#GL" x="499.5"/></g></g>
<g id="row61" transform="translate(0,3182)"><g id="k61_1"><use href="#GR" x="83.5"/></g><g id="k61_2"><use href="#GR" x="135.5"/></g><g id="k61_3"><use href="#GR" x="187.5"/></g><g id="k61_4"><use href="#GR" x="239.5"/></g><g id="k61_5"><use href="#GR" x="291.5"/></g><g id="k61_6"><use href="#GR" x="343.5"/></g><g id="k61_7"><use href="#GR" x="395.5"/></g><g id="k61_8"><use href="#GR" x="447.5"/></g><g id="k61_9"><use href="#GR" x="499.5"/></g></g>
<g id="row62" transform="translate(0,3234)"><g id="k62_1"><use href="#GL" x="83.5"/></g><g id="k62_2"><use href="#GL" x="135.5"/></g><g id="k62_3"><use href="#GL" x="187.5"/></g><g id="k62_4"><use href="#GL" x="239.5"/></g><g id="k62_5"><use href="#GL" x="291.5"/></g><g id="k62_6"><use href="#GL" x="343.5"/></g><g id="k62_7"><use href="#GL" x="395.5"/></g><g id="k62_8"><use href="#GL" x="447.5"/></g><g id="k62_9"><use href="#GL" x="499.5"/></g></g>
<g id="row63" transform="translate(0,3286)"><g id="k63_1"><use href="#GR" x="83.5"/></g><g id="k63_2"><use href="#GR" x="135.5"/></g><g id="k63_3"><use href="#GR" x="187.5"/></g><g id="k63_4"><use href="#PR" x="239.5"/></g><g id="k63_5"><use href="#GR" x="291.5"/></g><g id="k63_6"><use href="#GR" x="343.5"/></g><g id="k63_7"><use href="#GR" x="395.5"/></g><g id="k63_8"><use href="#GR" x="447.5"/></g><g id="k63_9"><use href="#GR" x="499.5"/></g></g>
<g id="row64" transform="translate(0,3338)"><g id="k64_1"><use href="#GL" x="83.5"/></g><g id="k64_2"><use href="#GL" x="135.5"/></g><g id="k64_3"><use href="#PL" x="187.5"/></g><g id="k64_4"><use href="#TL" x="239.5"/></g><g id="k64_5"><use href="#PL" x="291.5"/></g><g id="k64_6"><use href="#GL" x="343.5"/></g><g id="k64_7"><use href="#GL" x="395.5"/></g><g id="k64_8"><use href="#GL" x="447.5"/></g><g id="k64_9"><use href="#GL" x="499.5"/></g></g>
<g id="row65" transform="translate(0,3390)"><g id="k65_1"><use href="#GR" x="83.5"/></g><g id="k65_2"><use href="#GR" x="135.5"/></g><g id="k65_3"><use href="#GR" x="187.5"/></g><g id="k65_4"><use href="#PR" x="239.5"/></g><g id="k65_5"><use href="#GR" x="291.5"/></g><g id="k65_6"><use href="#GR" x="343.5"/></g><g id="k65_7"><use href="#GR" x="395.5"/></g><g id="k65_8"><use href="#GR" x="447.5"/></g><g id="k65_9"><use href="#GR" x="499.5"/></g></g>
<g id="row66" transform="translate(0,3442)"><g id="k66_1"><use href="#GL" x="83.5"/></g><g id="k66_2"><use href="#GL" x="135.5"/></g><g id="k66_3"><use href="#GL" x="187.5"/></g><g id="k66_4"><use href="#GL" x="239.5"/></g><g id="k66_5"><use href="#GL" x="291.5"/></g><g id="k66_6"><use href="#GL" x="343.5"/></g><g id="k66_7"><use href="#GL" x="395.5"/></g><g id="k66_8"><use href="#GL" x="447.5"/></g><g id="k66_9"><use href="#GL" x="499.5"/></g></g>
<g id="row67" transform="translate(0,3494)"><g id="k67_1"><use href="#GR" x="83.5"/></g><g id="k67_2"><use href="#GR" x="135.5"/></g><g id="k67_3"><use href="#GR" x="187.5"/></g><g id="k67_4"><use href="#GR" x="239.5"/></g><g id="k67_5"><use href="#GR" x="291.5"/></g><g id="k67_6"><use href="#GR" x="343.5"/></g><g id="k67_7"><use href="#GR" x="395.5"/></g><g id="k67_8"><use href="#GR" x="447.5"/></g><g id="k67_9"><use href="#GR" x="499.5"/></g></g>
<g id="row68" transform="translate(0,3546)"><g id="k68_1"><use href="#GL" x="83.5"/></g><g id="k68_2"><use href="#GL" x="135.5"/></g><g id="k68_3"><use href="#GL" x="187.5"/></g><g id="k68_4"><use href="#GL" x="239.5"/></g><g id="k68_5"><use href="#GL" x="291.5"/></g><g id="k68_6"><use href="#PL" x="343.5"/></g><g id="k68_7"><use href="#GL" x="395.5"/></g><g id="k68_8"><use href="#GL" x="447.5"/></g><g id="k68_9"><use href="#GL" x="499.5"/></g></g>
<g id="row69" transform="translate(0,3598)"><g id="k69_1"><use href="#GR" x="83.5"/></g><g id="k69_2"><use href="#GR" x="135.5"/></g><g id="k69_3"><use href="#GR" x="187.5"/></g><g id="k69_4"><use href="#GR" x="239.5"/></g><g id="k69_5"><use href="#PR" x="291.5"/></g><g id="k69_6"><use href="#TR" x="343.5"/></g><g id="k69_7"><use href="#PR" x="395.5"/></g><g id="k69_8"><use href="#GR" x="447.5"/></g><g id="k69_9"><use href="#GR" x="499.5"/></g></g>
<g id="row70" transform="translate(0,3650)"><g id="k70_1"><use href="#GL" x="83.5"/></g><g id="k70_2"><use href="#GL" x="135.5"/></g><g id="k70_3"><use href="#GL" x="187.5"/></g><g id="k70_4"><use href="#GL" x="239.5"/></g><g id="k70_5"><use href="#GL" x="291.5"/></g><g id="k70_6"><use href="#PL" x="343.5"/></g><g id="k70_7"><use href="#GL" x="395.5"/></g><g id="k70_8"><use href="#GL" x="447.5"/></g><g id="k70_9"><use href="#GL" x="499.5"/></g></g>
<g id="row71" transform="translate(0,3702)"><g id="k71_1"><use href="#GR" x="83.5"/></g><g id="k71_2"><use href="#GR" x="135.5"/></g><g id="k71_3"><use href="#GR" x="187.5"/></g><g id="k71_4"><use href="#GR" x="239.5"/></g><g id="k71_5"><use href="#GR" x="291.5"/></g><g id="k71_6"><use href="#GR" x="343.5"/></g><g id="k71_7"><use href="#GR" x="395.5"/></g><g id="k71_8"><use href="#GR" x="447.5"/></g><g id="k71_9"><use href="#GR" x="499.5"/></g></g>
<g id="row72" transform="translate(0,3754)"><g id="k72_1"><use href="#GL" x="83.5"/></g><g id="k72_2"><use href="#GL" x="135.5"/></g><g id="k72_3"><use href="#GL" x="187.5"/></g><g id="k72_4"><use href="#GL" x="239.5"/></g><g id="k72_5"><use href="#GL" x="291.5"/></g><g id="k72_6"><use href="#GL" x="343.5"/></g><g id="k72_7"><use href="#GL" x="395.5"/></g><g id="k72_8"><use href="#GL" x="447.5"/></g><g id="k72_9"><use href="#GL" x="499.5"/></g></g>
</g>
<g id="string-labels" class="sl">
<text x="31" y="66">A</text>
<text x="31" y="170">C</text>
<text x="31" y="1990">D</text>
<text x="31" y="3654" fill="#fff" style="fill:#fff">B</text>
<text x="31" y="3758">A</text>
<text x="547" y="118" style="fill:#fff">B</text>
<text x="547" y="1990">D</text>
<text x="547" y="3602">C</text>
</g>
<g id="row-numbers-left" class="num" text-anchor="end">
<text x="21" y="67">1</text><text x="21" y="119">2</text><text x="21" y="171">3</text><text x="21" y="223">4</text><text x="21" y="275">5</text><text x="21" y="327">6</text><text x="21" y="379">7</text><text x="21" y="431">8</text><text x="21" y="483">9</text><text x="21" y="535">10</text><text x="21" y="587">11</text><text x="21" y="639">12</text><text x="21" y="691">13</text><text x="21" y="743">14</text><text x="21" y="795">15</text><text x="21" y="847">16</text><text x="21" y="899">17</text><text x="21" y="951">18</text><text x="21" y="1003">19</text><text x="21" y="1055">20</text><text x="21" y="1107">21</text><text x="21" y="1159">22</text><text x="21" y="1211">23</text><text x="21" y="1263">24</text><text x="21" y="1315">25</text><text x="21" y="1367">26</text><text x="21" y="1419">27</text><text x="21" y="1471">28</text><text x="21" y="1523">29</text><text x="21" y="1575">30</text><text x="21" y="1627">31</text><text x="21" y="1679">32</text><text x="21" y="1731">33</text><text x="21" y="1783">34</text><text x="21" y="1835">35</text><text x="21" y="1887">36</text><text x="21" y="1939">37</text><text x="21" y="1991">38</text><text x="21" y="2043">39</text><text x="21" y="2095">40</text><text x="21" y="2147">41</text><text x="21" y="2199">42</text><text x="21" y="2251">43</text><text x="21" y="2303">44</text><text x="21" y="2355">45</text><text x="21" y="2407">46</text><text x="21" y="2459">47</text><text x="21" y="2511">48</text><text x="21" y="2563">49</text><text x="21" y="2615">50</text><text x="21" y="2667">51</text><text x="21" y="2719">52</text><text x="21" y="2771">53</text><text x="21" y="2823">54</text><text x="21" y="2875">55</text><text x="21" y="2927">56</text><text x="21" y="2979">57</text><text x="21" y="3031">58</text><text x="21" y="3083">59</text><text x="21" y="3135">60</text><text x="21" y="3187">61</text><text x="21" y="3239">62</text><text x="21" y="3291">63</text><text x="21" y="3343">64</text><text x="21" y="3395">65</text><text x="21" y="3447">66</text><text x="21" y="3499">67</text><text x="21" y="3551">68</text><text x="21" y="3603">69</text><text x="21" y="3655">70</text><text x="21" y="3707">71</text><text x="21" y="3759">72</text>
</g>
<g id="row-numbers-right" class="num">
<text x="563" y="67">1</text><text x="563" y="119">2</text><text x="563" y="171">3</text><text x="563" y="223">4</text><text x="563" y="275">5</text><text x="563" y="327">6</text><text x="563" y="379">7</text><text x="563" y="431">8</text><text x="563" y="483">9</text><text x="563" y="535">10</text><text x="563" y="587">11</text><text x="563" y="639">12</text><text x="563" y="691">13</text><text x="563" y="743">14</text><text x="563" y="795">15</text><text x="563" y="847">16</text><text x="563" y="899">17</text><text x="563" y="951">18</text><text x="563" y="1003">19</text><text x="563" y="1055">20</text><text x="563" y="1107">21</text><text x="563" y="1159">22</text><text x="563" y="1211">23</text><text x="563" y="1263">24</text><text x="563" y="1315">25</text><text x="563" y="1367">26</text><text x="563" y="1419">27</text><text x="563" y="1471">28</text><text x="563" y="1523">29</text><text x="563" y="1575">30</text><text x="563" y="1627">31</text><text x="563" y="1679">32</text><text x="563" y="1731">33</text><text x="563" y="1783">34</text><text x="563" y="1835">35</text><text x="563" y="1887">36</text><text x="563" y="1939">37</text><text x="563" y="1991">38</text><text x="563" y="2043">39</text><text x="563" y="2095">40</text><text x="563" y="2147">41</text><text x="563" y="2199">42</text><text x="563" y="2251">43</text><text x="563" y="2303">44</text><text x="563" y="2355">45</text><text x="563" y="2407">46</text><text x="563" y="2459">47</text><text x="563" y="2511">48</text><text x="563" y="2563">49</text><text x="563" y="2615">50</text><text x="563" y="2667">51</text><text x="563" y="2719">52</text><text x="563" y="2771">53</text><text x="563" y="2823">54</text><text x="563" y="2875">55</text><text x="563" y="2927">56</text><text x="563" y="2979">57</text><text x="563" y="3031">58</text><text x="563" y="3083">59</text><text x="563" y="3135">60</text><text x="563" y="3187">61</text><text x="563" y="3239">62</text><text x="563" y="3291">63</text><text x="563" y="3343">64</text><text x="563" y="3395">65</text><text x="563" y="3447">66</text><text x="563" y="3499">67</text><text x="563" y="3551">68</text><text x="563" y="3603">69</text><text x="563" y="3655">70</text><text x="563" y="3707">71</text><text x="563" y="3759">72</text>
</g>
<text id="watermark" class="wm" x="292" y="1913" text-anchor="middle" textLength="154" lengthAdjust="spacingAndGlyphs">BRACELETBOOK.COM</text>
</svg>
